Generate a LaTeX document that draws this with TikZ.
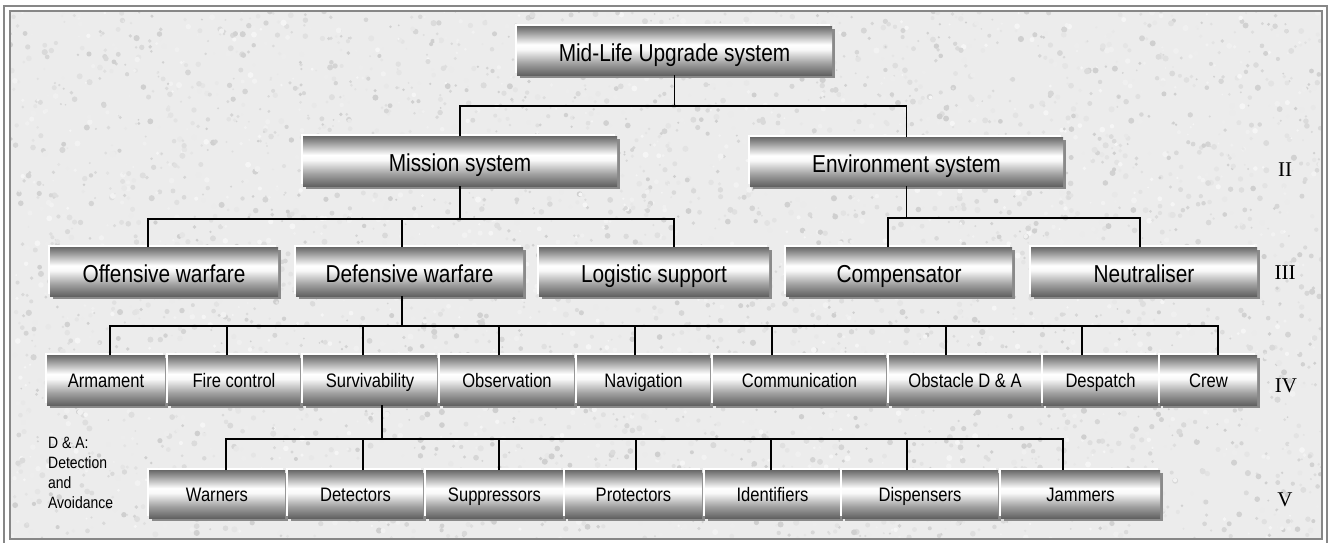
\documentclass[tikz,border=0pt]{standalone}
\usepackage{fontspec}
\usetikzlibrary{shadows}
\newfontfamily\boxfont{Liberation Sans}[FakeStretch=0.85]
\newfontfamily\numfont{Liberation Serif}

\definecolor{paper}{RGB}{236,236,236}
\definecolor{framegray}{RGB}{135,135,135}
\definecolor{shadegray}{RGB}{138,138,138}
\definecolor{barA}{RGB}{104,104,104}
\definecolor{barB}{RGB}{150,150,150}
\definecolor{barC}{RGB}{248,248,248}
\definecolor{barD}{RGB}{160,160,160}
\definecolor{barE}{RGB}{98,98,98}
% metallic bar: dark top, bright band above the middle, dark bottom
\pgfdeclareverticalshading{metalbar}{100bp}{color(0bp)=(barE); color(25bp)=(barE); color(37bp)=(barD); color(51bp)=(barC); color(56bp)=(white); color(69bp)=(barB); color(75bp)=(barA); color(100bp)=(barA)}

\tikzset{
  bar/.style={shade, shading=metalbar, inner sep=0pt, outer sep=0pt, anchor=north west,
    text depth=0pt,
    drop shadow={shadow xshift=3pt, shadow yshift=-3pt, opacity=1, fill=shadegray},
    general shadow={shadow xshift=-2pt, shadow yshift=2pt, fill=white}},
  bigbar/.style={bar, font=\boxfont\fontsize{24.5}{28}\selectfont, text height=21pt},
  smallbar/.style={bar, font=\boxfont\fontsize{19.5}{23}\selectfont, text height=14.5pt},
  link/.style={line width=1.8pt, black},
  level/.style={font=\numfont\fontsize{21}{24}\selectfont, inner sep=0pt, text height=13.9pt, text depth=0pt}
}

\begin{document}
\begin{tikzpicture}[x=1pt, y=-1pt]
\useasboundingbox (0,0) rectangle (1329,542);
\clip (0,0) rectangle (1329,542);

% paper with granite grain and double frame
\fill[white] (0,0) rectangle (1329,542);
\fill[paper] (10,11) rectangle (1322,539);
\pgfmathsetseed{11}
\begin{scope}
\clip (10,11) rectangle (1322,539);
\foreach \i in {1,...,5200}{
  \pgfmathsetmacro\px{10+1312*rnd}
  \pgfmathsetmacro\py{11+528*rnd}
  \pgfmathsetmacro\pr{0.9+2.2*rnd}
  \pgfmathtruncatemacro\pk{int(4+16*rnd)}
  \fill[black!\pk] (\px,\py) circle[radius=\pr pt];
}
\end{scope}
\draw[framegray, line width=2pt] (4,6) rectangle (1327,544);
\draw[framegray, line width=2pt] (10,11) rectangle (1322,539);

% level I
\node[bigbar, minimum width=315pt, minimum height=49pt] (mlu) at (517,26) {Mid-Life Upgrade system};

% level II
\node[bigbar, minimum width=314pt, minimum height=50pt] (mis) at (303,136) {Mission system};
\node[bigbar, minimum width=313pt, minimum height=49pt] (env) at (750,137) {Environment system};

% level III
\node[bigbar, minimum width=228pt, minimum height=49pt] (off) at (50,247) {Offensive warfare};
\node[bigbar, minimum width=227pt, minimum height=49pt] (def) at (296,247) {Defensive warfare};
\node[bigbar, minimum width=230pt, minimum height=49pt] (log) at (539,247) {Logistic support};
\node[bigbar, minimum width=226pt, minimum height=49pt] (cmp) at (786,247) {Compensator};
\node[bigbar, minimum width=226pt, minimum height=49pt] (neu) at (1031,247) {Neutraliser};

% level IV
\node[smallbar, minimum width=118pt, minimum height=50pt] (arm) at (47,355) {Armament};
\node[smallbar, minimum width=132pt, minimum height=50pt] (fir) at (168,355) {Fire control};
\node[smallbar, minimum width=134pt, minimum height=50pt] (sur) at (303,355) {Survivability};
\node[smallbar, minimum width=134pt, minimum height=50pt] (obs) at (440,355) {Observation};
\node[smallbar, minimum width=133pt, minimum height=50pt] (nav) at (577,355) {Navigation};
\node[smallbar, minimum width=173pt, minimum height=50pt] (cmm) at (713,355) {Communication};
\node[smallbar, minimum width=152pt, minimum height=50pt] (obt) at (889,355) {Obstacle D \& A};
\node[smallbar, minimum width=115pt, minimum height=50pt] (dsp) at (1043,355) {Despatch};
\node[smallbar, minimum width=97pt, minimum height=50pt] (crw) at (1160,355) {Crew};

% level V
\node[smallbar, minimum width=136pt, minimum height=48pt] (war) at (149,470) {Warners};
\node[smallbar, minimum width=135pt, minimum height=48pt] (det) at (288,470) {Detectors};
\node[smallbar, minimum width=137pt, minimum height=48pt] (sup) at (426,470) {Suppressors};
\node[smallbar, minimum width=137pt, minimum height=48pt] (pro) at (565,470) {Protectors};
\node[smallbar, minimum width=135pt, minimum height=48pt] (ide) at (705,470) {Identifiers};
\node[smallbar, minimum width=156pt, minimum height=48pt] (dis) at (842,470) {Dispensers};
\node[smallbar, minimum width=159pt, minimum height=48pt] (jam) at (1001,470) {Jammers};

% bus levels
\coordinate (b1) at (674,106);
\coordinate (b2) at (460,219);
\coordinate (b3) at (907,218);
\coordinate (b4) at (402,326);
\coordinate (b5) at (382,439);

% I -> II
\draw[link] (mlu.south) -- (mlu.south |- b1);
\draw[link] (mis.north) |- (b1) -| (env.north);

% Mission system -> III
\draw[link] (mis.south) -- (b2);
\draw[link] ([xshift=-16pt]off.north) |- (b2) -| ([xshift=20pt]log.north);
\draw[link] ([xshift=-7.5pt]def.north) -- ([xshift=-7.5pt]def.north |- b2);

% Environment system -> III
\draw[link] (env.south) -- (env.south |- b3);
\draw[link] ([xshift=-11pt]cmp.north) |- (b3) -| ([xshift=-4pt]neu.north);

% Defensive warfare -> IV
\draw[link] ([xshift=-7.5pt]def.south) -- (b4);
\draw[link] ([xshift=4pt]arm.north) |- (b4) -| ([xshift=9.5pt]crw.north);
\foreach \n/\d in {fir/-7, sur/-7, obs/-8, nav/-8.5, cmm/-27.5, obt/-19, dsp/-18.5}{
  \draw[link] ([xshift=\d pt]\n.north) -- ([xshift=\d pt]\n.north |- b4);
}

% Survivability -> V
\draw[link] ([xshift=12pt]sur.south) -- (b5);
\draw[link] ([xshift=9pt]war.north) |- (b5) -| ([xshift=-17.5pt]jam.north);
\foreach \n/\d in {det/7.5, sup/4.5, pro/2.5, ide/-1.5, dis/-13}{
  \draw[link] ([xshift=\d pt]\n.north) -- ([xshift=\d pt]\n.north |- b5);
}

% legend and level numbers
\node[anchor=north west, inner sep=0pt, align=left,
      font=\boxfont\fontsize{16.4}{20}\selectfont] (legend) at (48,437)
      {D \& A:\\Detection\\and\\Avoidance};
\node[level] (l2) at (1285,170) {II};
\node[level] (l3) at (1285,273) {III};
\node[level] (l4) at (1286,386) {IV};
\node[level] (l5) at (1285,500) {V};
\end{tikzpicture}
\end{document}
